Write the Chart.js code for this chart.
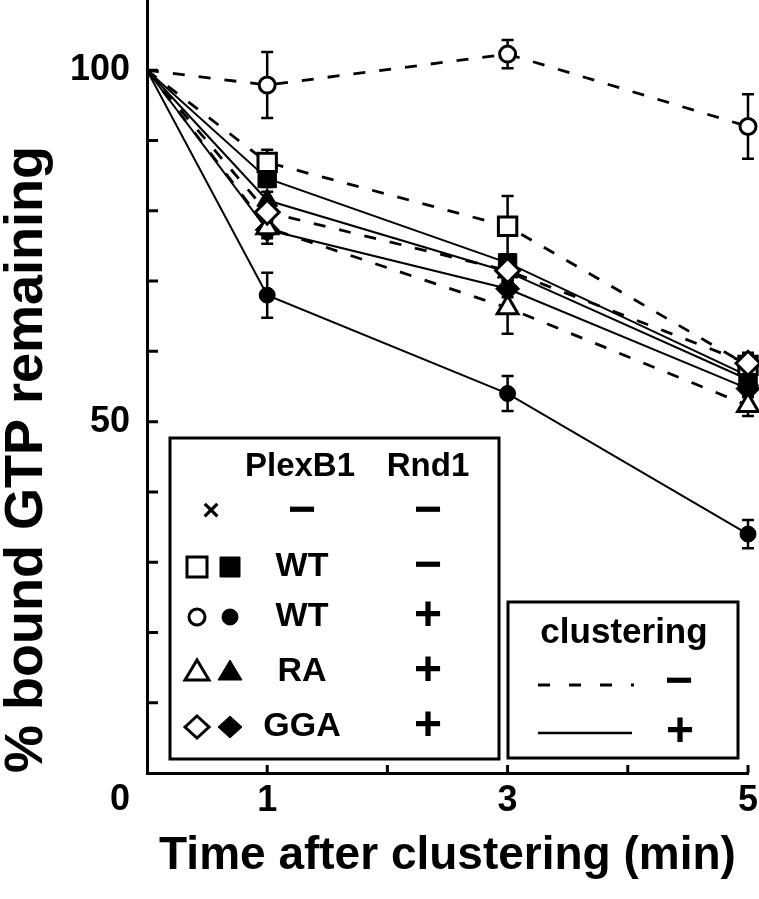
<!DOCTYPE html>
<html>
<head>
<meta charset="utf-8">
<title>% bound GTP remaining</title>
<script src="https://cdn.jsdelivr.net/npm/chart.js@4.4.1/dist/chart.umd.min.js"></script>
<style>
  html, body { margin: 0; padding: 0; background: #fff; }
  #wrap { position: relative; width: 759px; height: 899px; }
</style>
</head>
<body>
<div id="wrap"><canvas id="gtp-chart"></canvas></div>
<script>
(function () {
    'use strict';

    // time after clustering (min)
    var times = [0, 1, 3, 5];
    var xLabelValues = [1, 3, 5];
    var yLabelValues = [50, 100];

    // % bound GTP remaining ("Off" = no clustering, dashed; "On" = clustering, solid)
    var wtMinusOff = [100, 86.9, 77.8, 58.0];   // open square
    var wtMinusOn = [100, 84.6, 72.6, 56.5];    // filled square
    var wtPlusOff = [100, 97.9, 102.3, 92.0];   // open circle
    var wtPlusOn = [100, 68.0, 54.0, 34.0];     // filled circle
    var raOff = [100, 77.6, 66.2, 52.3];        // open triangle
    var raOn = [100, 81.5, 71.3, 56.0];         // filled triangle
    var ggaOff = [100, 79.8, 71.5, 58.3];       // open diamond
    var ggaOn = [100, 77.3, 68.9, 54.7];        // filled diamond

    // error bars (+/-)
    var wtMinusOffErr = [0, 1.8, 4.3, 1.5];
    var wtMinusOnErr = [0, 1.2, 1.2, 1.2];
    var wtPlusOffErr = [0, 4.7, 2.0, 4.6];
    var wtPlusOnErr = [0, 3.2, 2.5, 2.0];
    var raOffErr = [0, 2.3, 3.7, 1.5];
    var raOnErr = [0, 1.2, 1.2, 1.2];
    var ggaOffErr = [0, 1.2, 1.2, 1.5];
    var ggaOnErr = [0, 1.2, 1.2, 1.2];

    // legend table
    var plexLabels = ['\u2212', 'WT', 'WT', 'RA', 'GGA'];
    var rndLabels = ['\u2212', '\u2212', '+', '+', '+'];
    var legendMarks = ['cross', 'rect', 'circle', 'triangle', 'rectRot'];

    var FONT = '"Liberation Sans", Arial, Helvetica, sans-serif';
    var radii = { circle: 8, rect: 13, triangle: 12, rectRot: 12 };

    function series(label, values, errors, style, filled) {
        var r = radii[style];
        return {
            label: label,
            data: times.map(function (t, i) { return { x: t, y: values[i] }; }),
            errors: errors,
            borderColor: '#000',
            borderWidth: filled ? 2 : 2.8,
            borderDash: filled ? [] : [12, 14],
            pointStyle: style,
            pointRadius: times.map(function (t) { return t === 0 ? 0 : r; }),
            pointHoverRadius: times.map(function (t) { return t === 0 ? 0 : r; }),
            pointBackgroundColor: filled ? '#000' : '#fff',
            pointBorderColor: '#000',
            pointBorderWidth: filled ? 1 : 3,
            tension: 0,
            fill: false,
            clip: false
        };
    }

    function mark(ctx, style, x, y, filled) {
        ctx.beginPath();
        if (style === 'circle') {
            ctx.arc(x, y, 8, 0, Math.PI * 2);
        } else if (style === 'rect') {
            ctx.rect(x - 10, y - 10, 20, 20);
        } else if (style === 'triangle') {
            ctx.moveTo(x, y - 12);
            ctx.lineTo(x + 12, y + 8);
            ctx.lineTo(x - 12, y + 8);
            ctx.closePath();
        } else {
            ctx.moveTo(x - 12, y);
            ctx.lineTo(x, y - 11);
            ctx.lineTo(x + 12, y);
            ctx.lineTo(x, y + 11);
            ctx.closePath();
        }
        ctx.fillStyle = filled ? '#000' : '#fff';
        ctx.lineWidth = filled ? 1 : 3;
        ctx.fill();
        ctx.stroke();
    }

    var errorBars = {
        id: 'errorBars',
        beforeDatasetsDraw: function (chart) {
            var ctx = chart.ctx, ys = chart.scales.y;
            ctx.save();
            ctx.strokeStyle = '#000';
            ctx.lineWidth = 2.5;
            chart.data.datasets.forEach(function (ds, i) {
                chart.getDatasetMeta(i).data.forEach(function (pt, j) {
                    var e = ds.errors[j];
                    if (!e) return;
                    var v = ds.data[j].y;
                    var top = ys.getPixelForValue(v + e), bot = ys.getPixelForValue(v - e);
                    ctx.beginPath();
                    ctx.moveTo(pt.x, top); ctx.lineTo(pt.x, bot);
                    ctx.moveTo(pt.x - 6, top); ctx.lineTo(pt.x + 6, top);
                    ctx.moveTo(pt.x - 6, bot); ctx.lineTo(pt.x + 6, bot);
                    ctx.stroke();
                });
            });
            ctx.restore();
        }
    };

    var axisTicks = {
        id: 'axisTicks',
        afterDraw: function (chart) {
            var ctx = chart.ctx, xs = chart.scales.x, ys = chart.scales.y, a = chart.chartArea;
            ctx.save();
            ctx.strokeStyle = '#000';
            ctx.lineWidth = 3;
            ctx.beginPath();
            ys.ticks.forEach(function (t) {
                if (t.value <= 0 || t.value > 100) return;
                var y = ys.getPixelForValue(t.value);
                ctx.moveTo(a.left, y); ctx.lineTo(a.left + 11, y);
            });
            xs.ticks.forEach(function (t) {
                if (t.value <= 0) return;
                var x = xs.getPixelForValue(t.value);
                ctx.moveTo(x, a.bottom); ctx.lineTo(x, a.bottom - 8);
            });
            ctx.stroke();
            // "0" sits below the corner
            ctx.fillStyle = '#000';
            ctx.font = 'bold 36px ' + FONT;
            ctx.textAlign = 'right';
            ctx.textBaseline = 'middle';
            ctx.fillText('0', 130, ys.getPixelForValue(0) + 27);
            ctx.restore();
        }
    };

    var legendTable = {
        id: 'legendTable',
        afterDraw: function (chart) {
            var ctx = chart.ctx;
            ctx.save();
            ctx.lineWidth = 3;
            ctx.strokeStyle = '#000';
            ctx.fillStyle = '#fff';
            ctx.fillRect(170, 438, 329, 321);
            ctx.strokeRect(170, 438, 329, 321);
            ctx.fillRect(508, 602, 230, 156);
            ctx.strokeRect(508, 602, 230, 156);

            ctx.textAlign = 'center';
            ctx.textBaseline = 'middle';
            ctx.fillStyle = '#000';
            ctx.font = 'bold 33px ' + FONT;
            ctx.fillText('PlexB1', 300, 467);
            ctx.fillText('Rnd1', 428, 467);

            var rowY = [512, 567, 617, 672, 727];
            rowY.forEach(function (y, i) {
                ctx.strokeStyle = '#000';
                if (legendMarks[i] === 'cross') {
                    ctx.fillStyle = '#000';
                    ctx.font = 'bold 30px ' + FONT;
                    ctx.fillText('\u00d7', 211, y);
                } else {
                    mark(ctx, legendMarks[i], 197, y, false);
                    mark(ctx, legendMarks[i], 230, y, true);
                }
                ctx.fillStyle = '#000';
                ctx.font = (plexLabels[i] === '\u2212' ? 'bold 48px ' : 'bold 34px ') + FONT;
                ctx.fillText(plexLabels[i], 302, y);
                ctx.font = 'bold 48px ' + FONT;
                ctx.fillText(rndLabels[i], 428, y);
            });

            ctx.font = 'bold 35px ' + FONT;
            ctx.fillText('clustering', 624, 633);
            ctx.font = 'bold 48px ' + FONT;
            ctx.fillText('\u2212', 679, 683);
            ctx.fillText('+', 680, 733);

            ctx.lineWidth = 3;
            ctx.setLineDash([12, 19]);
            ctx.beginPath();
            ctx.moveTo(538, 685); ctx.lineTo(634, 685);
            ctx.stroke();
            ctx.setLineDash([]);
            ctx.lineWidth = 2.5;
            ctx.beginPath();
            ctx.moveTo(538, 733); ctx.lineTo(632, 733);
            ctx.stroke();
            ctx.restore();
        }
    };

    var tickFont = { family: FONT, size: 36, weight: 'bold' };

    // first dataset is drawn on top
    var ctx = document.getElementById('gtp-chart').getContext('2d');
    window.gtpChart = new Chart(ctx, {
        type: 'line',
        data: {
            datasets: [
                series('GGA / Rnd1+ / no clustering', ggaOff, ggaOffErr, 'rectRot', false),
                series('WT / Rnd1- / no clustering', wtMinusOff, wtMinusOffErr, 'rect', false),
                series('WT / Rnd1+ / no clustering', wtPlusOff, wtPlusOffErr, 'circle', false),
                series('RA / Rnd1+ / no clustering', raOff, raOffErr, 'triangle', false),
                series('WT / Rnd1- / clustering', wtMinusOn, wtMinusOnErr, 'rect', true),
                series('WT / Rnd1+ / clustering', wtPlusOn, wtPlusOnErr, 'circle', true),
                series('RA / Rnd1+ / clustering', raOn, raOnErr, 'triangle', true),
                series('GGA / Rnd1+ / clustering', ggaOn, ggaOnErr, 'rectRot', true)
            ]
        },
        options: {
            responsive: true,
            maintainAspectRatio: false,
            animation: false,
            layout: { autoPadding: false, padding: { top: 0, right: 11, bottom: 0, left: 0 } },
            plugins: {
                legend: { display: false },
                tooltip: { enabled: false }
            },
            scales: {
                x: {
                    type: 'linear',
                    min: 0,
                    max: 5,
                    grid: { display: false, drawTicks: false },
                    border: { display: true, color: '#000', width: 3 },
                    ticks: {
                        stepSize: 1,
                        autoSkip: false,
                        maxRotation: 0,
                        padding: 6,
                        color: '#000',
                        font: tickFont,
                        callback: function (v) { return xLabelValues.indexOf(v) >= 0 ? String(v) : ''; }
                    },
                    title: {
                        display: true,
                        text: 'Time after clustering (min)',
                        color: '#000',
                        font: { family: FONT, size: 46, weight: 'bold', lineHeight: 1 },
                        padding: { top: 0, bottom: 20 }
                    },
                    afterFit: function (scale) {
                        scale.height = 126;
                        scale.paddingLeft = 0;
                        scale.paddingRight = 0;
                    }
                },
                y: {
                    min: 0,
                    max: 110,
                    grid: { display: false, drawTicks: false },
                    border: { display: true, color: '#000', width: 3 },
                    ticks: {
                        stepSize: 10,
                        padding: 17,
                        color: '#000',
                        font: tickFont,
                        callback: function (v) { return yLabelValues.indexOf(v) >= 0 ? String(v) : ''; }
                    },
                    title: {
                        display: true,
                        text: '% bound GTP remaining',
                        align: 'start',
                        color: '#000',
                        font: { family: FONT, size: 54, weight: 'bold', lineHeight: 1 },
                        padding: { top: 0, bottom: 0 }
                    },
                    afterFit: function (scale) {
                        scale.width = 147;
                        scale.paddingTop = 0;
                        scale.paddingBottom = 0;
                    }
                }
            }
        },
        plugins: [errorBars, axisTicks, legendTable]
    });
})();
</script>
</body>
</html>
